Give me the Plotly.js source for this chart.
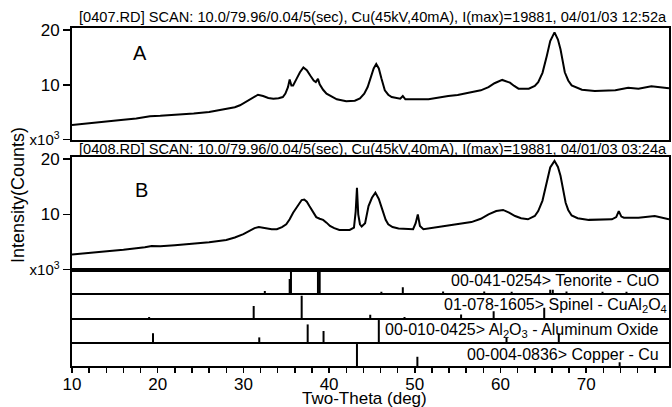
<!DOCTYPE html>
<html>
<head>
<meta charset="utf-8">
<script src="https://cdn.plot.ly/plotly-3.0.1.min.js"></script>
<style>html,body{margin:0;padding:0;background:#fff;}#chart{width:672px;height:407px;}</style>
</head>
<body>
<div id="chart"></div>
<script>
// ---- Data ----
const scanA_x = [10.0,12.0,14.4,16.0,17.5,18.5,19.1,20.3,22.0,24.2,26.0,28.0,29.0,29.6,30.2,30.8,31.3,31.7,32.3,32.9,33.5,34.1,34.6,34.9,35.2,35.4,35.6,35.8,36.2,36.6,37.0,37.4,37.8,38.2,38.45,38.7,38.9,39.3,39.7,40.3,40.9,42.0,43.0,43.6,44.1,44.5,44.9,45.2,45.5,45.8,46.1,46.5,46.9,47.3,48.3,48.6,48.9,50.0,51.6,53.9,55.0,56.7,57.7,58.6,59.3,60.2,60.7,61.1,61.6,62.1,63.3,64.0,64.4,64.9,65.4,65.8,66.3,66.7,67.0,67.3,67.5,67.9,68.3,69.5,71.0,73.4,74.9,76.1,77.6,79.66];
const scanA_y = [2.64,3.0,3.37,3.6,3.84,4.1,4.27,4.33,4.5,4.75,5.05,5.54,5.9,6.27,6.8,7.35,7.9,8.19,7.95,7.6,7.46,7.55,7.77,8.4,9.58,10.98,9.9,9.9,11.1,12.3,13.2,12.7,11.7,10.8,10.5,11.1,10.1,9.1,8.4,7.8,7.35,7.0,7.1,7.5,8.4,9.6,11.6,13.0,13.8,13.0,11.2,9.0,8.2,7.77,7.46,7.95,7.35,7.3,7.35,7.95,8.15,8.68,9.0,9.58,10.3,10.9,10.7,10.4,9.8,9.3,9.3,9.8,10.5,12.2,15.3,18.0,19.6,18.3,16.5,14.0,12.3,10.8,9.9,9.1,8.86,9.0,9.46,9.3,9.76,9.4];

const scanB_x = [10.0,12.0,14.4,16.0,17.5,18.5,19.3,20.3,22.0,24.2,26.0,28.0,29.0,30.0,30.8,31.3,31.8,32.2,32.7,33.3,33.9,34.5,35.0,35.4,35.8,36.2,36.5,36.8,37.1,37.4,37.7,38.1,38.5,38.9,39.3,39.7,40.1,40.6,41.2,42.4,42.9,43.1,43.25,43.4,43.6,43.8,44.2,44.6,45.0,45.4,45.8,46.2,46.6,46.9,47.4,48.1,49.8,50.1,50.35,50.6,51.0,53.5,55.0,56.6,57.7,58.6,59.5,60.3,61.0,61.7,62.4,63.2,64.0,64.4,64.9,65.4,65.8,66.3,66.7,67.0,67.3,67.6,67.9,68.3,69.0,70.3,73.0,73.5,73.8,74.1,74.4,76.1,78.0,79.66];
const scanB_y = [2.7,3.05,3.37,3.6,3.8,4.05,4.28,4.2,4.4,4.64,4.95,5.36,5.8,6.4,7.1,7.5,7.72,7.6,7.43,7.3,7.3,7.7,8.2,9.1,10.3,11.3,12.1,12.6,12.7,12.3,11.5,10.4,9.5,9.2,9.0,8.5,7.9,7.5,7.17,7.17,7.6,10.5,14.8,10.0,8.2,7.8,8.4,11.5,13.0,13.95,12.8,10.9,9.0,8.2,7.7,7.43,7.3,8.4,10.0,7.9,7.3,7.9,8.2,8.6,9.2,10.0,10.6,10.8,10.3,9.7,9.3,9.1,9.7,10.6,12.5,15.8,18.5,19.7,18.6,17.0,14.3,12.1,10.8,9.8,9.3,9.0,9.1,9.5,10.6,9.6,9.4,9.4,9.7,9.1];

const tenorite_pos = [32.5,35.4,35.55,38.7,38.9,46.1,48.6,53.3,58.1,61.3,65.8,66.1,67.7,71.9,74.7];
const tenorite_int = [9,60,100,100,100,5,24,6,6,5,14,14,6,5,5];
const spinel_pos = [19.0,31.2,36.8,44.8,48.8,55.4,59.2,65.1];
const spinel_int = [5,53,100,14,4,15,30,45];
const alumina_pos = [19.45,31.85,37.5,39.35,45.8,60.7,66.8];
const alumina_int = [40,21,80,50,100,20,40];
const copper_pos = [43.25,50.3,73.9];
const copper_int = [100,42,17];

const titleA = "[0407.RD] SCAN: 10.0/79.96/0.04/5(sec), Cu(45kV,40mA), I(max)=19881, 04/01/03 12:52a";
const titleB = "[0408.RD] SCAN: 10.0/79.96/0.04/5(sec), Cu(45kV,40mA), I(max)=19881, 04/01/03 03:24a";
const phaseLabels = ["00-041-0254> Tenorite - CuO","01-078-1605> Spinel - CuAl<sub>2</sub>O<sub>4</sub>","00-010-0425> Al<sub>2</sub>O<sub>3</sub> - Aluminum Oxide","00-004-0836> Copper - Cu"];
const yTickVals = [0,10,20];
const yTickText = ["<span style='font-size:15px'>x10<sup>3</sup></span>","10","20"];
const xTickVals = [10,20,30,40,50,60,70];

// ---- Build traces ----
function sticks(pos, inten, xa, ya){
  const x=[], y=[];
  pos.forEach((p,i)=>{ x.push(p,p,null); y.push(0,inten[i],null); });
  return {x:x, y:y, xaxis:xa, yaxis:ya, mode:'lines', type:'scatter',
          line:{color:'#000', width:2}, hoverinfo:'skip', cliponaxis:false};
}
const FONT = 'Arial, "Liberation Sans", sans-serif';
const traces = [
  {x:scanA_x, y:scanA_y, xaxis:'x6', yaxis:'y6', mode:'lines', type:'scatter', line:{color:'#000', width:2}},
  {x:scanB_x, y:scanB_y, xaxis:'x5', yaxis:'y5', mode:'lines', type:'scatter', line:{color:'#000', width:2}},
  sticks(tenorite_pos, tenorite_int, 'x4', 'y4'),
  sticks(spinel_pos, spinel_int, 'x3', 'y3'),
  sticks(alumina_pos, alumina_int, 'x2', 'y2'),
  sticks(copper_pos, copper_int, 'x', 'y')
];

const XR = [10, 79.66];
const frameX = (anchor)=>({range:XR, anchor:anchor, matches:'x', showline:true, mirror:true, linewidth:2, linecolor:'#000',
  showgrid:false, zeroline:false, showticklabels:false, ticks:''});
const frameY = (dom, anchor)=>({domain:dom, range:[0,100], anchor:anchor, showline:true, mirror:true, linewidth:2, linecolor:'#000',
  showgrid:false, zeroline:false, showticklabels:false, ticks:''});
const specY = (dom, anchor)=>({domain:dom, range:[0,20.4], anchor:anchor, showline:true, mirror:true, linewidth:2, linecolor:'#000',
  showgrid:false, zeroline:false, tickmode:'array', tickvals:yTickVals, ticktext:yTickText, ticks:'outside', ticklen:7, tickwidth:1.5,
  tickcolor:'#000', tickfont:{size:17, color:'#000', family:FONT}});

const px2x = p => (p-72)/597;
const py2y = p => (366-p)/338;

const layout = {
  width:672, height:407,
  margin:{l:72, r:3, t:28, b:41},
  paper_bgcolor:'#fff', plot_bgcolor:'#fff',
  showlegend:false,
  font:{family:FONT, color:'#000'},
  xaxis:{range:XR, anchor:'y', showline:true, mirror:true, linewidth:2, linecolor:'#000', showgrid:false, zeroline:false,
    tickmode:'array', tickvals:xTickVals, ticks:'outside', ticklen:5, tickwidth:1.5, tickcolor:'#000', ticklabelstandoff:-3,
    tickfont:{size:17, color:'#000', family:FONT},
    minor:{dtick:2, tick0:10, ticks:'outside', ticklen:5, tickwidth:1.5, tickcolor:'#000', showgrid:false}},
  xaxis2:frameX('y2'), xaxis3:frameX('y3'), xaxis4:frameX('y4'), xaxis5:frameX('y5'), xaxis6:frameX('y6'),
  yaxis:frameY([0, 0.065], 'x'),
  yaxis2:frameY([0.071, 0.136], 'x2'),
  yaxis3:frameY([0.142, 0.2086], 'x3'),
  yaxis4:frameY([0.216, 0.2855], 'x4'),
  yaxis5:specY([0.2855, 0.6183], 'x5'),
  yaxis6:specY([0.670, 1.0], 'x6'),
  annotations:[
    {text:titleA, xref:'paper', yref:'paper', x:px2x(77), y:py2y(17), xanchor:'left', yanchor:'middle', showarrow:false, font:{size:14.6}},
    {text:titleB, xref:'paper', yref:'paper', x:px2x(77), y:py2y(149), xanchor:'left', yanchor:'middle', showarrow:false, font:{size:14.6}},
    {text:'A', xref:'paper', yref:'paper', x:px2x(140), y:py2y(53), xanchor:'center', yanchor:'middle', showarrow:false, font:{size:20}},
    {text:'B', xref:'paper', yref:'paper', x:px2x(141), y:py2y(190), xanchor:'center', yanchor:'middle', showarrow:false, font:{size:20}},
    {text:phaseLabels[0], xref:'paper', yref:'paper', x:px2x(661), y:py2y(280), xanchor:'right', yanchor:'middle', showarrow:false, font:{size:16}},
    {text:phaseLabels[1], xref:'paper', yref:'paper', x:px2x(669), y:py2y(305), xanchor:'right', yanchor:'middle', showarrow:false, font:{size:16}},
    {text:phaseLabels[2], xref:'paper', yref:'paper', x:px2x(661), y:py2y(330), xanchor:'right', yanchor:'middle', showarrow:false, font:{size:16}},
    {text:phaseLabels[3], xref:'paper', yref:'paper', x:px2x(661), y:py2y(354), xanchor:'right', yanchor:'middle', showarrow:false, font:{size:16}},
    {text:'Intensity(Counts)', xref:'paper', yref:'paper', x:px2x(18), y:py2y(195), xanchor:'center', yanchor:'middle', textangle:-90, showarrow:false, font:{size:18}},
    {text:'Two-Theta (deg)', xref:'paper', yref:'paper', x:px2x(364), y:py2y(398.5), xanchor:'center', yanchor:'middle', showarrow:false, font:{size:17}}
  ]
};

Plotly.newPlot('chart', traces, layout, {staticPlot:true, displayModeBar:false});
</script>
</body>
</html>
